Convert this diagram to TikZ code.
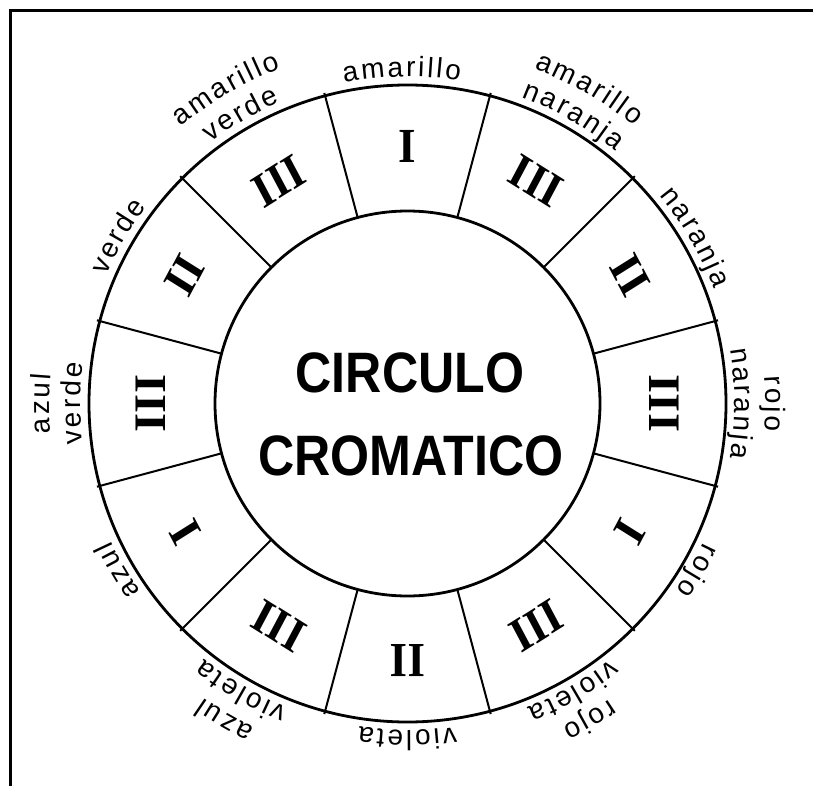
\documentclass[tikz,border=0pt]{standalone}
\usepackage{fontspec}
\setmainfont{Liberation Serif}
\newfontfamily\labfont{Liberation Sans}
\newfontfamily\ctrfont{Liberation Sans}
\newfontfamily\numfont{Liberation Serif}
\usetikzlibrary{decorations.text,calc}
\newcommand\arclabel[3]{%
  \path[decorate, decoration={text along path, text align=center,
    text={|\labfont\fontsize{28}{30}\selectfont\fontdimen2\font=2.6pt|#3}}]
    ($(C)+({#1+40}:#2)$) arc[start angle={#1+40}, end angle={#1-40}, radius=#2];}
\begin{document}
\begin{tikzpicture}[x=1pt,y=1pt,
  ring/.style={circle, draw, line width=2.8pt, inner sep=0pt, outer sep=0pt},
  divider/.style={line width=2pt},
  numeral/.style={font=\numfont\bfseries\fontsize{49}{52}\selectfont, xscale=0.92, inner sep=0pt},
  ctext/.style={font=\ctrfont\bfseries\fontsize{57}{60}\selectfont, xscale=0.88, inner sep=0pt},
  frame/.style={line width=3pt}]
\useasboundingbox (0,0) rectangle (816,-786);
\draw[frame] (10.5,-786) -- (10.5,-10.5) -- (813,-10.5);
\coordinate (C) at (407.5,-403.5);
\node[ring, minimum size=637pt] (outer) at (C) {};
\node[ring, minimum size=385pt] (inner) at (C) {};
\foreach \a in {15,45,...,345}
  \draw[divider] (inner.\a) -- ([shift={(\a:3)}]outer.\a);
\foreach \a/\t in {90/I,60/III,30/II,0/III,-30/I,-60/III,-90/II,-120/III,-150/I,180/III,150/II,120/III}{
  \pgfmathsetmacro\r{\a-90}
  \node[numeral, rotate=\r] (n\a) at ($(C)+(\a:257)$) {\t};
}
\node[ctext, anchor=base] (c1) at (410,-392) {CIRCULO};
\node[ctext, anchor=base] (c2) at (411,-475) {CROMATICO};
% labels
\arclabel{91}{327}{a m a r i l l o}
\arclabel{60}{358}{a m a r i l l o}
\arclabel{60}{327}{n a r a n j a}
\arclabel{30}{327}{n a r a n j a}
\arclabel{0}{358}{r o j o}
\arclabel{0}{327}{n a r a n j a}
\arclabel{-30}{327}{r o j o}
\arclabel{-60}{358}{r o j o}
\arclabel{-60}{327}{v i o l e t a}
\arclabel{-90}{327}{v i o l e t a}
\arclabel{-120}{358}{a z u l}
\arclabel{-120}{327}{v i o l e t a}
\arclabel{-150}{327}{a z u l}
\arclabel{180}{358}{a z u l}
\arclabel{180}{327}{v e r d e}
\arclabel{150}{327}{v e r d e}
\arclabel{120}{358}{a m a r i l l o}
\arclabel{120}{327}{v e r d e}
\end{tikzpicture}
\end{document}
